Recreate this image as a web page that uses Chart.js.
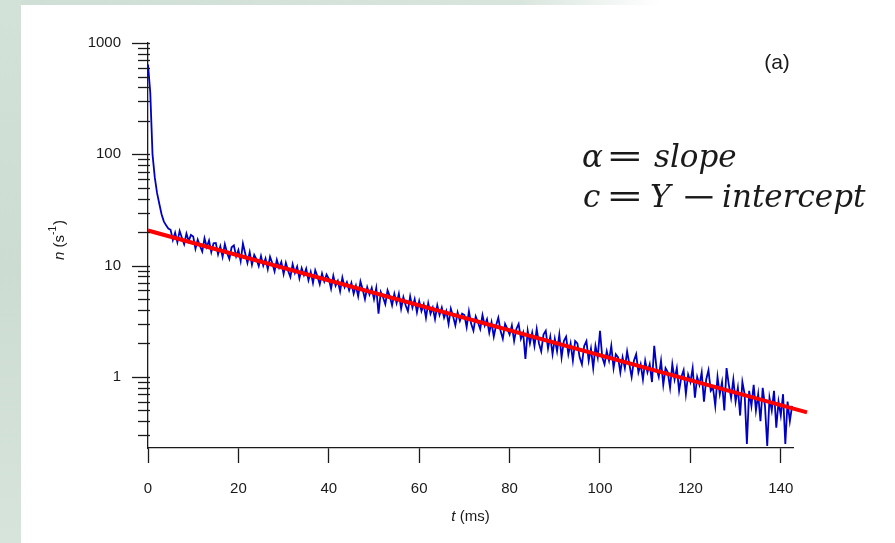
<!DOCTYPE html>
<html>
<head>
<meta charset="utf-8">
<script src="https://cdn.jsdelivr.net/npm/chart.js@4.4.0/dist/chart.umd.min.js"></script>
<style>
  html, body { margin: 0; padding: 0; }
  body {
    width: 895px; height: 543px; overflow: hidden; position: relative;
    background: linear-gradient(to right, #cfdfd5 0px, #d8e5dd 520px, #ffffff 660px);
  }
  #panel {
    position: absolute; left: 21px; top: 5px; right: 0; bottom: 0;
    background: #ffffff;
  }
  #leftStrip {
    position: absolute; left: 0; top: 0; width: 21px; height: 543px;
    background: linear-gradient(to bottom, #d3e2d9, #cddcd3 50%, #d6e4dc);
  }
  canvas { position: absolute; left: 0; top: 0; }
</style>
</head>
<body>
<div id="leftStrip"></div>
<div id="panel"></div>
<canvas id="decayChart" width="895" height="543"></canvas>
<script>
// sample spacing of the measured trace (ms)
const sampleStep = 0.5;

// measured count rate n (1/s), one value per 0.5 ms starting at t = 0
const countRate = [
  640, 360, 100, 62, 45, 36, 29, 25, 23, 21.5,
  21.0, 17.0, 19.8, 16.2, 20.5, 17.8, 15.6, 19.4, 16.6, 18.9,
  18.3, 14.2, 17.1, 15.0, 13.4, 17.6, 14.7, 16.8, 13.2, 15.9,
  16.0, 12.6, 14.9, 12.0, 15.6, 13.0, 11.5, 14.6, 15.2, 12.1,
  13.8, 11.0, 15.8, 12.9, 10.6, 13.2, 10.2, 12.5, 11.4, 9.9,
  12.2, 10.0, 11.6, 9.3, 12.0, 10.5, 8.9, 11.3, 9.6, 10.8,
  8.4, 10.6, 9.0, 7.9, 10.3, 8.6, 9.8, 7.7, 9.5, 8.2,
  9.4, 7.4, 8.8, 7.0, 9.1, 8.0, 6.8, 8.5, 7.2, 8.3,
  7.6, 6.2, 8.1, 6.6, 7.3, 5.9, 7.8, 6.4, 7.1, 6.0,
  7.0, 5.6, 6.6, 5.3, 7.2, 6.1, 5.0, 6.4, 5.5, 6.3,
  5.0, 6.3, 3.7, 5.8, 5.2, 4.5, 6.0, 5.3, 4.4, 5.6,
  4.6, 5.6, 4.1, 5.2, 4.4, 3.9, 5.3, 4.2, 5.0, 3.8,
  4.8, 3.9, 4.5, 3.4, 4.6, 3.7, 4.2, 3.3, 4.4, 3.6,
  4.2, 3.4, 3.9, 3.0, 4.1, 3.5, 2.9, 3.8, 3.2, 3.7,
  3.6, 2.8, 3.9, 3.0, 2.6, 3.5, 3.1, 2.7, 3.6, 2.9,
  3.3, 2.5, 3.1, 2.3, 2.9, 3.4, 2.6, 2.2, 3.0, 2.7,
  2.4, 2.9, 2.1, 2.7, 3.0, 2.2, 2.5, 1.45, 2.6, 2.0,
  2.5, 1.9, 2.7, 2.0, 1.7, 2.4, 2.6, 1.8, 2.3, 1.6,
  2.2, 1.7, 2.4, 1.5, 2.1, 2.3, 1.6, 2.0, 1.4, 2.1,
  2.0, 1.5, 1.3, 1.9, 2.1, 1.4, 1.8, 1.2, 1.9, 1.5,
  2.6, 1.5, 1.3, 1.7, 1.4, 1.9, 1.2, 1.6, 1.5, 1.1,
  1.5, 1.2, 1.7, 1.3, 1.0, 1.4, 1.6, 1.1, 1.3, 0.95,
  1.4, 1.1, 1.3, 0.9, 1.9, 1.2, 1.0, 1.4, 0.85, 1.2,
  1.1, 0.8, 1.3, 0.95, 1.2, 0.75, 1.0, 1.15, 0.7, 1.05,
  0.9, 1.2, 0.65, 1.0, 0.85, 1.1, 0.6, 0.95, 1.15, 0.75,
  0.8, 0.55, 1.0, 0.7, 0.9, 0.5, 1.2, 0.85, 0.65, 0.95,
  0.6, 0.8, 0.45, 0.9, 0.7, 0.25, 0.75, 0.55, 0.85, 0.5,
  0.7, 0.4, 0.8, 0.55, 0.24, 0.65, 0.5, 0.75, 0.35, 0.6,
  0.45, 0.7, 0.25, 0.6, 0.4, 0.55
];

// straight-line fit on the log plot (end points)
const fitTimes = [0, 145.8];
const fitRate = [20.7, 0.48];

// axis ticks
const xTicks = [0, 20, 40, 60, 80, 100, 120, 140];
const yDecades = [1, 10, 100, 1000];

const xMin = 0, xMax = 142.7;
const yMin = 0.23, yMax = 1000;

const ink = '#1a1a1a';
Chart.defaults.font.family = "'Liberation Sans', Arial, sans-serif";
Chart.defaults.color = ink;

// minor/major tick marks of the log axis, drawn on the library's y scale
const logTicksPlugin = {
  id: 'logTicks',
  afterDraw(chart) {
    const ctx = chart.ctx;
    const yScale = chart.scales.y;
    const left = chart.chartArea.left;
    ctx.save();
    ctx.strokeStyle = ink;
    ctx.lineWidth = 1.3;
    for (let e = -1; e <= 3; e++) {
      for (let k = 1; k <= 9; k++) {
        const v = k * Math.pow(10, e);
        if (v < yMin || v > yMax * 1.0001) continue;
        const py = Math.round(yScale.getPixelForValue(v)) + 0.5;
        const len = k === 1 ? 16 : 10;
        ctx.beginPath();
        ctx.moveTo(left - len, py);
        ctx.lineTo(left + 2, py);
        ctx.stroke();
      }
    }
    ctx.restore();
  }
};

// draw a piece of text stretched horizontally (for the wide = and - signs)
function wideText(ctx, txt, x, y, sx) {
  ctx.save();
  ctx.translate(x, y);
  ctx.scale(sx, 1);
  ctx.fillText(txt, 0, 0);
  ctx.restore();
}

// axis titles, panel label and the annotation text
const textPlugin = {
  id: 'texts',
  afterDraw(chart) {
    const ctx = chart.ctx;
    const area = chart.chartArea;
    ctx.save();
    ctx.fillStyle = ink;

    // x title: "t (ms)"
    const sans = "'Liberation Sans', Arial, sans-serif";
    ctx.textBaseline = 'middle';
    ctx.font = 'italic 15px ' + sans;
    const tW = ctx.measureText('t').width;
    ctx.font = '15px ' + sans;
    const msW = ctx.measureText(' (ms)').width;
    const cx = (area.left + area.right) / 2;
    let x0 = cx - (tW + msW) / 2;
    ctx.textAlign = 'left';
    ctx.font = 'italic 15px ' + sans;
    ctx.fillText('t', x0, 517);
    ctx.font = '15px ' + sans;
    ctx.fillText(' (ms)', x0 + tW, 517);

    // y title: "n (s^-1)"
    ctx.save();
    ctx.translate(60, (area.top + area.bottom) / 2 - 5);
    ctx.rotate(-Math.PI / 2);
    ctx.font = 'italic 15px ' + sans;
    const nW = ctx.measureText('n').width;
    ctx.font = '15px ' + sans;
    const sW = ctx.measureText(' (s').width;
    ctx.font = '10px ' + sans;
    const supW = ctx.measureText('-1').width;
    ctx.font = '15px ' + sans;
    const cW = ctx.measureText(')').width;
    let yx = -(nW + sW + supW + cW) / 2;
    ctx.font = 'italic 15px ' + sans;
    ctx.fillText('n', yx, 0); yx += nW;
    ctx.font = '15px ' + sans;
    ctx.fillText(' (s', yx, 0); yx += sW;
    ctx.font = '10px ' + sans;
    ctx.fillText('-1', yx, -7); yx += supW;
    ctx.font = '15px ' + sans;
    ctx.fillText(')', yx + 1, 0);
    ctx.restore();

    // panel label
    ctx.textAlign = 'center';
    ctx.font = '21px ' + sans;
    ctx.fillText('(a)', 777, 63);

    // annotation
    const serif = "'DejaVu Serif', serif";
    ctx.textAlign = 'left';
    ctx.textBaseline = 'alphabetic';
    const it = 'italic 31px ' + serif;
    const up = '31px ' + serif;
    ctx.font = it; ctx.fillText('\u03b1', 582, 167);
    ctx.font = up; wideText(ctx, '=', 606, 167, 1.45);
    ctx.font = it; ctx.fillText('slope', 654, 167);
    ctx.font = it; ctx.fillText('c', 583, 207);
    ctx.font = up; wideText(ctx, '=', 606, 207, 1.45);
    ctx.font = it; ctx.fillText('Y', 650, 207);
    ctx.font = up; wideText(ctx, '\u2212', 681, 207, 1.4);
    ctx.font = it; ctx.fillText('intercept', 722, 207);
    ctx.restore();
  }
};

const ctx = document.getElementById('decayChart').getContext('2d');

new Chart(ctx, {
  type: 'line',
  data: {
    datasets: [
      {
        label: 'fit',
        data: fitTimes.map((t, i) => ({ x: t, y: fitRate[i] })),
        borderColor: '#ff0000',
        borderWidth: 4,
        pointRadius: 0,
        clip: false
      },
      {
        label: 'n',
        data: countRate.map((v, i) => ({ x: i * sampleStep, y: v })),
        borderColor: '#0000c2',
        borderWidth: 1.8,
        pointRadius: 0
      }
    ]
  },
  options: {
    responsive: false,
    animation: false,
    layout: { padding: { left: 0, top: 43, right: 102, bottom: 0 } },
    plugins: {
      legend: { display: false },
      tooltip: { enabled: false }
    },
    scales: {
      x: {
        type: 'linear',
        min: xMin,
        max: xMax,
        afterFit: (s) => { s.height = 95; },
        afterBuildTicks: (s) => { s.ticks = xTicks.map((v) => ({ value: v })); },
        grid: {
          drawOnChartArea: false,
          drawTicks: true,
          tickLength: 15,
          tickColor: ink,
          tickWidth: 1.3
        },
        border: { display: true, color: ink, width: 1.3 },
        ticks: {
          font: { size: 15 },
          color: ink,
          padding: 17,
          maxRotation: 0,
          autoSkip: false
        }
      },
      y: {
        type: 'logarithmic',
        min: yMin,
        max: yMax,
        afterFit: (s) => { s.width = 148; },
        afterBuildTicks: (s) => { s.ticks = yDecades.map((v) => ({ value: v })); },
        grid: { drawOnChartArea: false, drawTicks: false },
        border: { display: true, color: ink, width: 1.3 },
        ticks: {
          font: { size: 15 },
          color: ink,
          padding: 27,
          autoSkip: false,
          callback: (v) => String(v)
        }
      }
    }
  },
  plugins: [logTicksPlugin, textPlugin]
});
</script>
</body>
</html>
